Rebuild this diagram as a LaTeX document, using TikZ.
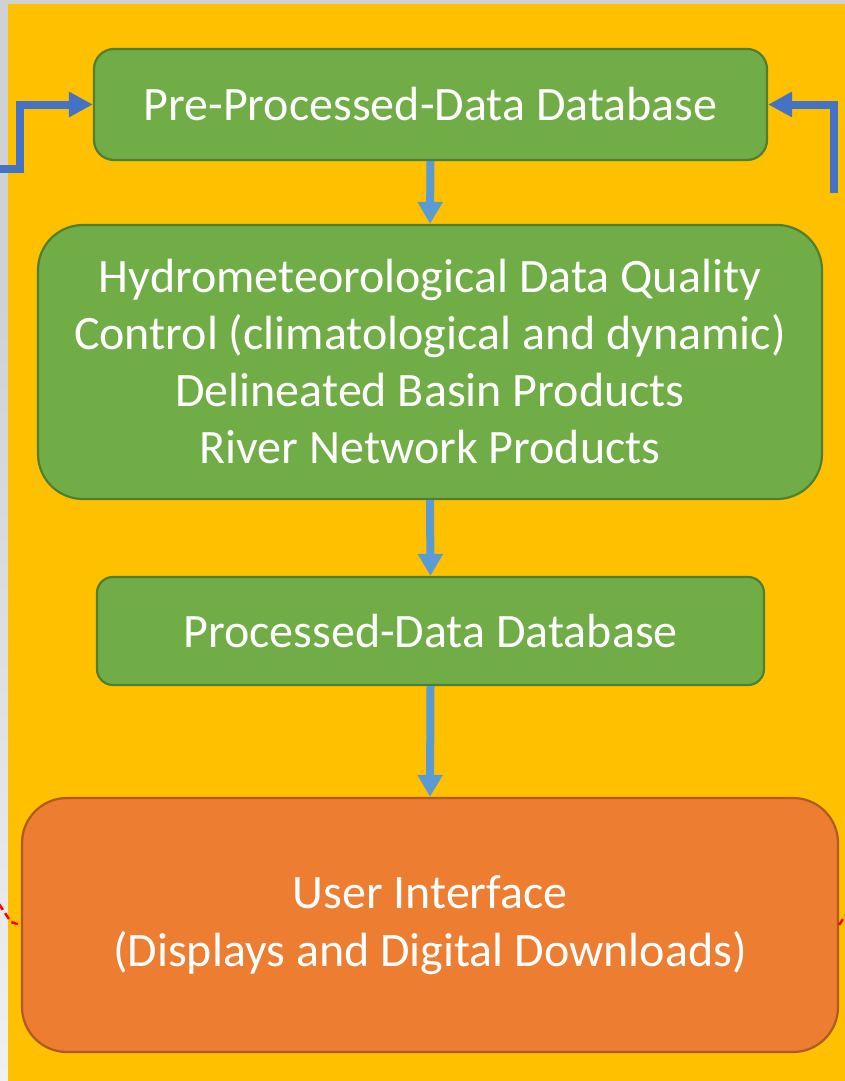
\documentclass[tikz,border=0pt]{standalone}
\usepackage{fontspec}
\setmainfont{Carlito}
\usetikzlibrary{arrows.meta}
\definecolor{bggray}{HTML}{D0D1D5}
\definecolor{bglight}{HTML}{F0F0F0}
\definecolor{panel}{HTML}{FFC000}
\definecolor{gfill}{HTML}{70AD47}
\definecolor{gline}{HTML}{507E32}
\definecolor{ofill}{HTML}{ED7D31}
\definecolor{oline}{HTML}{AE5A21}
\definecolor{sideblue}{HTML}{4472C4}
\definecolor{downblue}{HTML}{5B9BD5}
\tikzset{
  gbox/.style={draw=gline, fill=gfill, line width=2.2pt, text=white, align=center,
    font=\fontsize{48}{57}\selectfont, inner sep=0pt},
  obox/.style={draw=oline, fill=ofill, line width=2.2pt, text=white, align=center,
    font=\fontsize{48}{58}\selectfont, inner sep=0pt},
  downarrow/.style={draw=downblue, line width=8pt, -{Triangle[width=24pt,length=22pt]}},
  sidearrow/.style={draw=sideblue, line width=8pt, -{Triangle[width=24pt,length=24pt]}},
  reddash/.style={draw=red, line width=2.4pt, dash pattern=on 7pt off 4pt}
}
\begin{document}
\begin{tikzpicture}[x=1pt,y=-1pt]
\useasboundingbox (0,0) rectangle (845,1081);
\fill[bggray] (0,0) rectangle (845,1081);
\shade[top color=bggray, bottom color=bglight] (0,300) rectangle (8,1081);
\fill[panel] (8,4) rectangle (845,1081);

\node[gbox, rounded corners=20pt, minimum width=673pt, minimum height=111pt] (n1) at (430.5,104.5) {Pre-Processed-Data Database};
\node[gbox, rounded corners=45pt, minimum width=784pt, minimum height=274pt] (n2) at (430,362)
  {Hydrometeorological Data Quality\\Control (climatological and dynamic)\\Delineated Basin Products\\River Network Products};
\node[gbox, rounded corners=16pt, minimum width=667pt, minimum height=108pt] (n3) at (430.5,631) {Processed-Data Database};
\node[obox, rounded corners=45pt, minimum width=816pt, minimum height=254pt] (n4) at (430,925)
  {User Interface\\(Displays and Digital Downloads)};

\draw[downarrow] (n1.south) -- (n2.north);
\draw[downarrow] (n2.south) -- (n3.north);
\draw[downarrow] (n3.south) -- (n4.north);

\coordinate (lin) at (0,169);
\coordinate (rin) at (834,193);
\draw[sidearrow] (lin) -- ++(20,0) |- (n1.west);
\draw[sidearrow] (rin) |- (n1.east);

\coordinate (lred) at (-1,904);
\coordinate (lbend) at (11,922);
\coordinate (rred) at (847,913);
\draw[reddash] (lred) -- (lbend) -- (n4.west);
\draw[reddash] (n4.east) -- (rred);
\end{tikzpicture}
\end{document}
